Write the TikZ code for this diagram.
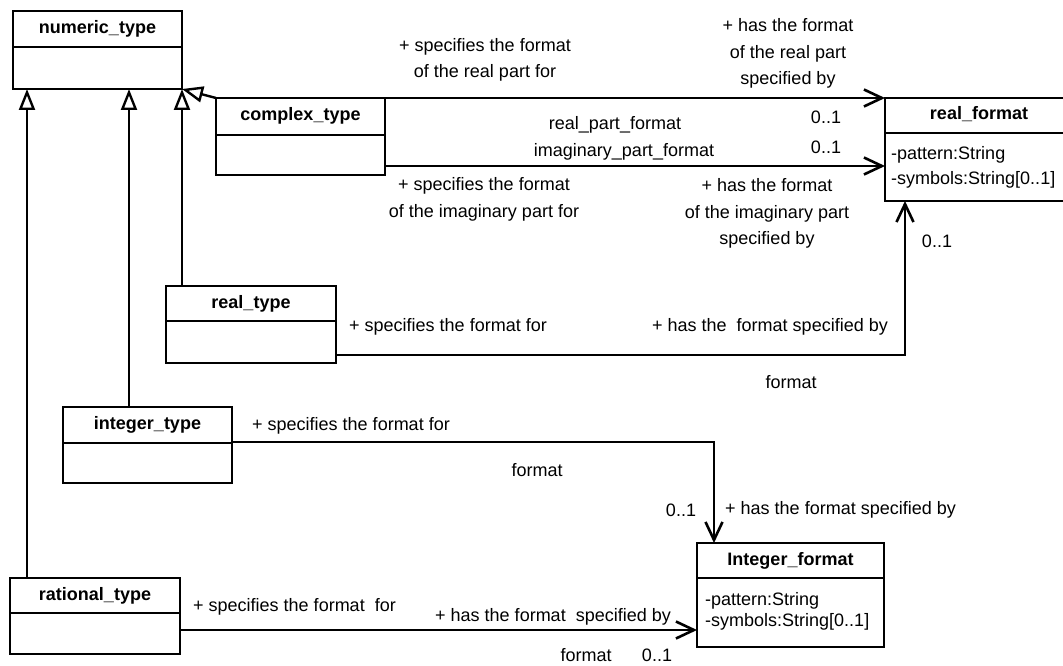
\documentclass[tikz,border=0pt]{standalone}
\usepackage{fontspec}
\setmainfont{Liberation Sans}
\usetikzlibrary{arrows.meta}
\tikzset{
  classbox/.style={draw, line width=2.2pt, inner sep=0pt, outer sep=0pt, fill=white},
  boxline/.style={line width=2.2pt},
  titletext/.style={inner sep=0pt, font=\fontsize{18}{26}\selectfont\bfseries, text height=13pt, text depth=4pt},
  lbl/.style={inner sep=0pt, font=\fontsize{18}{26.5}\selectfont, align=center},
  attr/.style={inner sep=0pt, anchor=west, font=\fontsize{18}{26}\selectfont, text height=13pt, text depth=4pt},
  gen/.style={draw, line width=2.4pt, -{Triangle[open, length=21pt, width=16pt, line width=2.4pt]}},
  assoc/.style={draw, line width=2.6pt, -{Straight Barb[length=18pt, width=17pt, line width=2.6pt]}}
}
\newcommand\umlclass[7]{%
  \node[classbox, minimum width={#4-#2}, minimum height={#5-#3}] (#1) at ({(#2+#4)/2},{(#3+#5)/2}) {};
  \draw[boxline] (#2,#6) -- (#4,#6);
  \node[titletext] (#1-title) at ({(#2+#4)/2},{(#3+#6)/2}) {#7};
}
\begin{document}
\begin{tikzpicture}[x=1pt, y=-1pt]
\clip (0,0) rectangle (1063,666);
\fill[white] (0,0) rectangle (1063,666);

% classes
\umlclass{num}{13}{11}{182}{89}{47}{numeric\_type}
\umlclass{complex}{216}{98}{385}{175}{135}{complex\_type}
\umlclass{realt}{166}{286}{336}{363}{321}{real\_type}
\umlclass{intt}{63}{407}{232}{483}{443}{integer\_type}
\umlclass{rat}{10}{578}{180}{654}{613}{rational\_type}
\umlclass{realf}{885}{98}{1073}{201}{133}{real\_format}
\umlclass{intf}{697}{543}{884}{647}{578}{Integer\_format}

\node[attr] (rfa1) at (891,155) {-pattern:String};
\node[attr] (rfa2) at (891,180) {-symbols:String[0..1]};
\node[attr] (ifa1) at (705,601) {-pattern:String};
\node[attr] (ifa2) at (705,622) {-symbols:String[0..1]};

% generalizations
\coordinate (g1) at (27,0);
\coordinate (g2) at (129,0);
\coordinate (g3) at (182,0);
\draw[gen] (rat.north -| g1) -- (num.south -| g1);
\draw[gen] (intt.north -| g2) -- (num.south -| g2);
\draw[gen] (realt.north -| g3) -- (num.south -| g3);
\draw[gen] (complex.north west) -- (num.south east);

% associations
\coordinate (c2) at (0,166);
\coordinate (r1) at (905,355);
\coordinate (i1) at (714,442);
\coordinate (q1) at (0,630);
\draw[assoc] (complex.north east) -- (realf.north west);
\draw[assoc] (complex.east |- c2) -- (realf.west |- c2);
\draw[assoc] (realt.east |- r1) -- (r1) -- (realf.south -| r1);
\draw[assoc] (intt.east |- i1) -- (i1) -- (intf.north -| i1);
\draw[assoc] (rat.east |- q1) -- (intf.west |- q1);

% labels: complex -> real_format
\node[lbl] (l1) at (485,60) {+ specifies the format\\of the real part for};
\node[lbl] (l2) at (788,53.5) {+ has the format\\of the real part\\specified by};
\node[lbl] (l3) at (615,125) {real\_part\_format};
\node[lbl] (l4) at (624,152) {imaginary\_part\_format};
\node[lbl] (l5) at (826,117) {0..1};
\node[lbl] (l6) at (826,147) {0..1};
\node[lbl] (l7) at (484,199.5) {+ specifies the format\\of the imaginary part for};
\node[lbl] (l8) at (767,213.5) {+ has the format\\of the imaginary part\\specified by};
\node[lbl] (l9) at (937,241) {0..1};

% real_type -> real_format
\node[lbl, anchor=west] (l10) at (349,327) {+ specifies the format for};
\node[lbl, anchor=east] (l11) at (888,327) {+ has the\ \ format specified by};
\node[lbl] (l12) at (791,382) {format};

% integer_type -> Integer_format
\node[lbl, anchor=west] (l13) at (252,426) {+ specifies the format for};
\node[lbl] (l14) at (537,470) {format};
\node[lbl] (l15) at (681,510) {0..1};
\node[lbl, anchor=west] (l16) at (725,510) {+ has the format specified by};

% rational_type -> Integer_format
\node[lbl, anchor=west] (l17) at (193,607) {+ specifies the format\ \ for};
\node[lbl, anchor=west] (l18) at (435,617) {+ has the format\ \ specified by};
\node[lbl] (l19) at (586,655) {format};
\node[lbl] (l20) at (657,655) {0..1};
\end{tikzpicture}
\end{document}
